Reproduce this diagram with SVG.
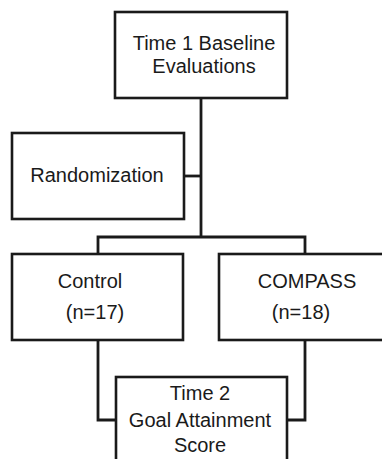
<svg xmlns="http://www.w3.org/2000/svg" width="382" height="459" viewBox="0 0 382 459">
<style>
.box{fill:#fff;stroke:#1a1a1a;stroke-width:2.6}
.ln{fill:none;stroke:#1a1a1a;stroke-width:2.8}
text{font-family:"Liberation Sans",Arial,sans-serif;font-size:20px;fill:#1a1a1a;text-anchor:middle}
</style>
<rect width="382" height="459" fill="#fff"/>
<g id="connectors">
<path class="ln" d="M201 98V237"/>
<path class="ln" d="M184 176H201"/>
<path class="ln" d="M98 254V237H305V254"/>
<path class="ln" d="M98 340V420H116"/>
<path class="ln" d="M305 340V420H287"/>
</g>
<g id="baseline">
<rect class="box" x="115" y="12" width="172" height="86"/>
<text x="204" y="50">Time 1 Baseline</text>
<text x="204" y="73">Evaluations</text>
</g>
<g id="randomization">
<rect class="box" x="12" y="133" width="172" height="86"/>
<text x="97" y="182">Randomization</text>
</g>
<g id="control">
<rect class="box" x="12" y="254" width="171" height="86"/>
<text x="90" y="288">Control</text>
<text x="95" y="319">(n=17)</text>
</g>
<g id="compass">
<rect class="box" x="219" y="254" width="170" height="86"/>
<text x="307" y="288">COMPASS</text>
<text x="301" y="319">(n=18)</text>
</g>
<g id="time2">
<rect class="box" x="116" y="377" width="171" height="90"/>
<text x="200" y="400">Time 2</text>
<text x="200" y="427">Goal Attainment</text>
<text x="200" y="452">Score</text>
</g>
</svg>
